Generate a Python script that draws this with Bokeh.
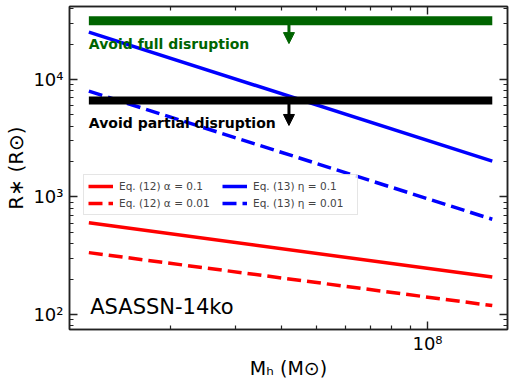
import math
from bokeh.plotting import figure
from bokeh.models import (LogAxis, FixedTicker, Legend, LegendItem, Arrow, NormalHead,
                          ColumnDataSource, Range1d)
from bokeh.core.properties import value
from bokeh.embed import file_html
from bokeh.resources import INLINE

# ---- data ----
mh = [1.2e7, 1.5e8]                      # black hole mass (Msun)
r_eq12_a01 = [604, 208]                  # Eq. (12) alpha = 0.1
r_eq12_a001 = [336, 119]                 # Eq. (12) alpha = 0.01
r_eq13_e01 = [25300, 2020]               # Eq. (13) eta = 0.1
r_eq13_e001 = [7950, 646]                # Eq. (13) eta = 0.01
r_full = [31600, 31600]                  # avoid full disruption limit
r_partial = [6630, 6630]                 # avoid partial disruption limit
arrow_x = 4.2e7
arrow_full = [31600, 20200]
arrow_partial = [6630, 4060]
text_x = [1.2e7, 1.2e7, 1.21e7]
text_y = [20200, 4300, 115]
texts = ["Avoid full disruption", "Avoid partial disruption", "ASASSN-14ko"]
legend_labels = ["Eq. (12) α = 0.1", "Eq. (12) α = 0.01", "Eq. (13) η = 0.1", "Eq. (13) η = 0.01"]
x_lim = [1.063e7, 1.65e8]
y_lim = [74.5, 41800]
x_ticks = [1e8]
x_minor = [2e7, 3e7, 4e7, 5e7, 6e7, 7e7, 8e7, 9e7]
y_ticks = [1e2, 1e3, 1e4]
y_minor = [m * d for d in (1e1, 1e2, 1e3, 1e4) for m in range(2, 10)]
x_tick_labels = {1e8: "10⁸"}
y_tick_labels = {1e2: "10²", 1e3: "10³", 1e4: "10⁴"}

FONT = "DejaVu Sans"
GREEN = "#006400"
RED = "#ff0000"
BLUE = "#0000ff"
AX = "#222222"
FRAME_W, FRAME_H = 438, 323

p = figure(x_axis_type="log", y_axis_type="log",
           x_range=Range1d(*x_lim), y_range=Range1d(*y_lim),
           frame_width=FRAME_W, frame_height=FRAME_H,
           min_border_left=69, min_border_right=8, min_border_top=6, min_border_bottom=40,
           output_backend="svg", toolbar_location=None)
p.grid.visible = False
p.outline_line_color = AX
p.outline_line_width = 1.5

# main lines
src = ColumnDataSource(dict(x=mh, a01=r_eq12_a01, a001=r_eq12_a001, e01=r_eq13_e01, e001=r_eq13_e001,
                            full=r_full, partial=r_partial))
l1 = p.line("x", "a01", source=src, line_color=RED, line_width=3.5)
l2 = p.line("x", "a001", source=src, line_color=RED, line_width=3.5, line_dash="14 6")
l3 = p.line("x", "e01", source=src, line_color=BLUE, line_width=3.5)
l4 = p.line("x", "e001", source=src, line_color=BLUE, line_width=3.5, line_dash="14 6")

# limits
p.line("x", "full", source=src, line_color=GREEN, line_width=9)
p.line("x", "partial", source=src, line_color="black", line_width=8)

p.add_layout(Arrow(end=NormalHead(size=11, fill_color=GREEN, line_color=GREEN),
                   x_start=arrow_x, y_start=arrow_full[0], x_end=arrow_x, y_end=arrow_full[1],
                   line_color=GREEN, line_width=3))
p.add_layout(Arrow(end=NormalHead(size=11, fill_color="black", line_color="black"),
                   x_start=arrow_x, y_start=arrow_partial[0], x_end=arrow_x, y_end=arrow_partial[1],
                   line_color="black", line_width=3))

p.text(x=text_x[:1], y=text_y[:1], text=texts[:1], text_font=value(FONT), text_font_style="bold",
       text_font_size="14px", text_color=GREEN, text_baseline="middle", text_align="left")
p.text(x=text_x[1:2], y=text_y[1:2], text=texts[1:2], text_font=value(FONT), text_font_style="bold",
       text_font_size="14px", text_color="black", text_baseline="middle", text_align="left")
p.text(x=text_x[2:], y=text_y[2:], text=texts[2:], text_font=value(FONT),
       text_font_size="21px", text_color="black", text_baseline="middle", text_align="left")

legend = Legend(items=[LegendItem(label=legend_labels[0], renderers=[l1]),
                       LegendItem(label=legend_labels[1], renderers=[l2]),
                       LegendItem(label=legend_labels[2], renderers=[l3]),
                       LegendItem(label=legend_labels[3], renderers=[l4])],
                ncols=2, location=(14, 114), glyph_width=25, glyph_height=14,
                label_text_font=FONT, label_text_font_size="10.5px", label_standoff=6,
                spacing=3, padding=4, margin=0, border_line_color="#cccccc",
                background_fill_alpha=0.8, label_height=14, label_width=100)
p.add_layout(legend)


def style_axis(ax, ticks, minor, labels, show):
    ax.ticker = FixedTicker(ticks=ticks, minor_ticks=minor)
    ax.major_tick_in = 8
    ax.major_tick_out = 0
    ax.minor_tick_in = 4
    ax.minor_tick_out = 0
    ax.axis_line_color = AX
    ax.axis_line_width = 1.5
    ax.major_tick_line_color = AX
    ax.minor_tick_line_color = AX
    ax.major_tick_line_width = 1.4
    ax.minor_tick_line_width = 1.2
    if show:
        ax.major_label_overrides = labels
        ax.major_label_text_font = FONT
        ax.major_label_text_font_size = "18px"
        ax.major_label_text_color = "black"
        ax.axis_label_text_font = FONT
        ax.axis_label_text_font_size = "19px"
        ax.axis_label_text_font_style = "normal"
        ax.axis_label_text_color = "black"
    else:
        ax.major_label_text_font_size = "1px"
        ax.major_label_text_color = None
        ax.major_label_standoff = 0


style_axis(p.xaxis[0], x_ticks, x_minor, x_tick_labels, True)
style_axis(p.yaxis[0], y_ticks, y_minor, y_tick_labels, True)
p.xaxis[0].axis_label = "Mₕ (M⊙)"
p.yaxis[0].axis_label = "R∗ (R⊙)"
p.yaxis[0].axis_label_text_font_size = "20px"
p.xaxis[0].major_label_standoff = 3
p.yaxis[0].major_label_standoff = 6
p.xaxis[0].axis_label_standoff = 0
p.yaxis[0].axis_label_standoff = 2

# mirrored axes on top and right (ticks only)
top_axis = LogAxis()
right_axis = LogAxis()
style_axis(top_axis, x_ticks, x_minor, {}, False)
style_axis(right_axis, y_ticks, y_minor, {}, False)
p.add_layout(top_axis, "above")
p.add_layout(right_axis, "right")

open("out.html", "w").write(file_html(p, INLINE))
